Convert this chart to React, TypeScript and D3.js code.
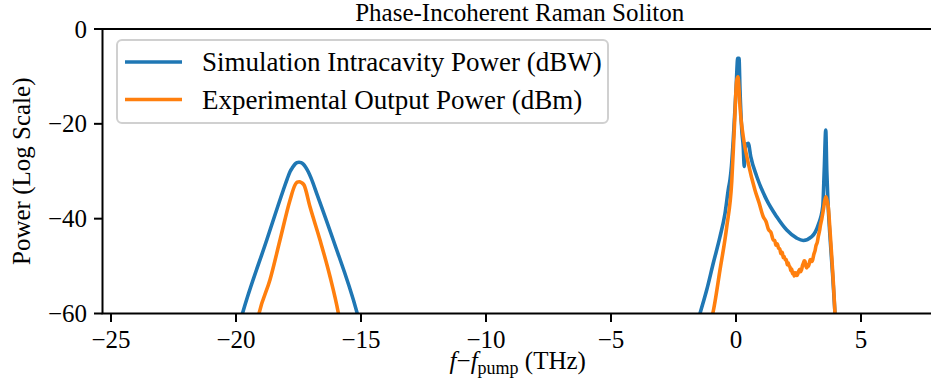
import React from "react";
import * as d3 from "d3";

type Pt = [number, number | null];

const TITLE = "Phase-Incoherent Raman Soliton";
const Y_LABEL = "Power (Log Scale)";
const SERIES_NAMES = ["Simulation Intracavity Power (dBW)", "Experimental Output Power (dBm)"];
const SERIES_COLORS = ["#1f77b4", "#ff7f0e"];
const X_TICKS = [-25, -20, -15, -10, -5, 0, 5];
const Y_TICKS = [0, -20, -40, -60];
const X_DOMAIN: [number, number] = [-25.34, 8.04];
const Y_DOMAIN: [number, number] = [-60, 0];

// Simulation intracavity power (dBW)
const simPower: Pt[] = [
  [-19.9, -63], [-19.73, -59.8], [-18.77, -44.5], [-18.11, -34.0], [-17.95, -31.6],
  [-17.84, -30.1], [-17.75, -29.3], [-17.64, -28.5], [-17.56, -28.2], [-17.48, -28.1],
  [-17.4, -28.2], [-17.31, -28.5], [-17.22, -29.1], [-17.11, -30.1], [-17.0, -31.4],
  [-16.77, -34.7], [-16.11, -44.5], [-15.17, -59.6], [-15.0, -63],
  [-8, null],
  [-1.6, -63], [-1.44, -60], [-1.17, -55.0], [-0.91, -49.4], [-0.64, -43.8],
  [-0.44, -38.9], [-0.3, -33.6], [-0.24, -31.8], [-0.18, -28.8], [-0.11, -23.4],
  [0.0, -12.9], [0.07, -6.2], [0.12, -6.2], [0.16, -12.9], [0.23, -21.3],
  [0.29, -24.8], [0.33, -29.0], [0.36, -25.5], [0.42, -24.3], [0.49, -24.1],
  [0.59, -26.9], [0.83, -31.1], [1.23, -36.1], [1.63, -39.6], [2.03, -42.4],
  [2.43, -44.1], [2.69, -44.6], [3.03, -43.8], [3.29, -41.3], [3.47, -37.5],
  [3.53, -29.7], [3.59, -21.3], [3.63, -29.7], [3.67, -35.4], [3.76, -43.8],
  [3.87, -52.2], [3.96, -60], [4.05, -66],
];

// Experimental output power (dBm)
const expPower: Pt[] = [
  [-19.2, -63], [-19.07, -59.8], [-18.64, -52.9], [-18.24, -44.5], [-17.84, -36.1],
  [-17.64, -32.9], [-17.55, -32.3], [-17.47, -32.2], [-17.38, -32.4], [-17.28, -32.9],
  [-17.04, -37.5], [-16.64, -44.5], [-16.24, -52.2], [-15.91, -59.8], [-15.8, -63],
  [-8, null],
  [-1.1, -63], [-0.93, -60], [-0.64, -50.8], [-0.37, -41.7], [-0.17, -32.2],
  [-0.07, -21.3], [0.03, -10.8], [0.08, -10.1], [0.12, -12.5], [0.16, -16.4],
  [0.29, -22.7], [0.49, -28.3], [0.76, -34.0], [0.92, -36.6], [1.09, -39.6],
  [1.2, -40.6], [1.3, -42.3], [1.4, -42.9], [1.49, -44.5], [1.55, -44.6],
  [1.6, -45.6], [1.65, -45.3], [1.7, -46.2], [1.75, -46.4], [1.8, -47.4],
  [1.85, -47.1], [1.89, -48.2], [1.93, -48.0], [1.97, -48.7], [2.01, -48.6],
  [2.05, -49.7], [2.09, -49.3], [2.12, -49.9], [2.16, -50.2], [2.2, -51.0],
  [2.23, -50.6], [2.26, -51.6], [2.3, -51.3], [2.33, -52.1], [2.37, -51.5],
  [2.4, -51.4], [2.44, -52.0], [2.47, -51.7], [2.51, -51.0], [2.55, -50.7],
  [2.58, -51.2], [2.62, -50.8], [2.66, -49.9], [2.7, -49.3], [2.73, -48.9],
  [2.76, -49.0], [2.8, -50.1], [2.83, -50.4], [2.87, -49.7], [2.9, -50.0],
  [2.94, -49.2], [2.97, -48.6], [3.01, -48.9], [3.05, -49.0], [3.09, -48.1],
  [3.12, -47.4], [3.16, -46.8], [3.2, -45.7], [3.25, -45.0], [3.29, -43.8],
  [3.34, -42.6], [3.38, -41.3], [3.43, -40.1], [3.47, -38.9], [3.51, -37.6],
  [3.55, -36.2], [3.6, -35.4], [3.65, -36.4], [3.69, -37.5], [3.76, -42.5],
  [3.83, -48.0], [3.9, -54.0], [3.96, -60], [4.05, -66],
];

const W = 931;
const H = 380;
const M = { left: 102.5, right: 937, top: 29, bottom: 313.5 };
const FONT = "'Liberation Serif', 'Times New Roman', Times, serif";

export default function App() {
  const x = d3.scaleLinear().domain(X_DOMAIN).range([M.left, M.right]);
  const y = d3.scaleLinear().domain(Y_DOMAIN).range([M.bottom, M.top]);
  const line = d3
    .line<Pt>()
    .defined((d) => d[1] !== null)
    .x((d) => x(d[0]))
    .y((d) => y(d[1] as number))
    .curve(d3.curveMonotoneX);
  const series = [simPower, expPower];
  const cx = (M.left + M.right) / 2;
  const tickLen = 8.5;

  return (
    <div style={{ position: "fixed", left: 0, top: 0 }}>
      <svg width={W} height={H} style={{ display: "block", background: "#fff" }} fontFamily={FONT}>
        <defs>
          <clipPath id="plotclip">
            <rect x={M.left} y={M.top} width={M.right - M.left} height={M.bottom - M.top} />
          </clipPath>
        </defs>
        <rect x={0} y={0} width={W} height={H} fill="#fff" />
        <g clipPath="url(#plotclip)">
          {series.map((s, i) => (
            <path
              key={i}
              d={line(s) || ""}
              fill="none"
              stroke={SERIES_COLORS[i]}
              strokeWidth={3.6}
              strokeLinejoin="round"
              strokeLinecap="butt"
            />
          ))}
        </g>
        {/* spines */}
        <rect
          x={M.left}
          y={M.top}
          width={M.right - M.left}
          height={M.bottom - M.top}
          fill="none"
          stroke="#000"
          strokeWidth={2}
        />
        {/* x ticks */}
        {X_TICKS.map((t) => (
          <g key={"x" + t}>
            <line x1={x(t)} x2={x(t)} y1={M.bottom} y2={M.bottom + tickLen} stroke="#000" strokeWidth={2} />
            <text x={x(t)} y={347.5} textAnchor="middle" fontSize={25} fill="#000">
              {t < 0 ? "\u2212" + Math.abs(t) : String(t)}
            </text>
          </g>
        ))}
        {/* y ticks */}
        {Y_TICKS.map((t) => (
          <g key={"y" + t}>
            <line x1={M.left - tickLen} x2={M.left} y1={y(t)} y2={y(t)} stroke="#000" strokeWidth={2} />
            <text x={87} y={y(t) + 8.5} textAnchor="end" fontSize={25} fill="#000">
              {t < 0 ? "\u2212" + Math.abs(t) : String(t)}
            </text>
          </g>
        ))}
        {/* title */}
        <text x={cx} y={21} textAnchor="middle" fontSize={25} fill="#000">
          {TITLE}
        </text>
        {/* x label */}
        <text x={cx - 2} y={369} textAnchor="middle" fontSize={25} fill="#000">
          <tspan fontStyle="italic">f</tspan>
          <tspan>{"\u2212"}</tspan>
          <tspan fontStyle="italic">f</tspan>
          <tspan fontSize={18} dy={5}>pump</tspan>
          <tspan dy={-5}>{" (THz)"}</tspan>
        </text>
        {/* y label */}
        <text
          transform={`translate(30, ${(M.top + M.bottom) / 2}) rotate(-90)`}
          textAnchor="middle"
          fontSize={25}
          fill="#000"
        >
          {Y_LABEL}
        </text>
        {/* legend */}
        <rect x={117} y={40} width={491} height={83} rx={5} ry={5} fill="#fff" fillOpacity={0.8} stroke="#d0d0d0" strokeWidth={2} />
        {SERIES_NAMES.map((name, i) => (
          <g key={name}>
            <line x1={125} x2={182} y1={62 + i * 37.5} y2={62 + i * 37.5} stroke={SERIES_COLORS[i]} strokeWidth={3.6} />
            <text x={202} y={62 + i * 37.5 + 9} fontSize={27} fill="#000">
              {name}
            </text>
          </g>
        ))}
      </svg>
    </div>
  );
}
